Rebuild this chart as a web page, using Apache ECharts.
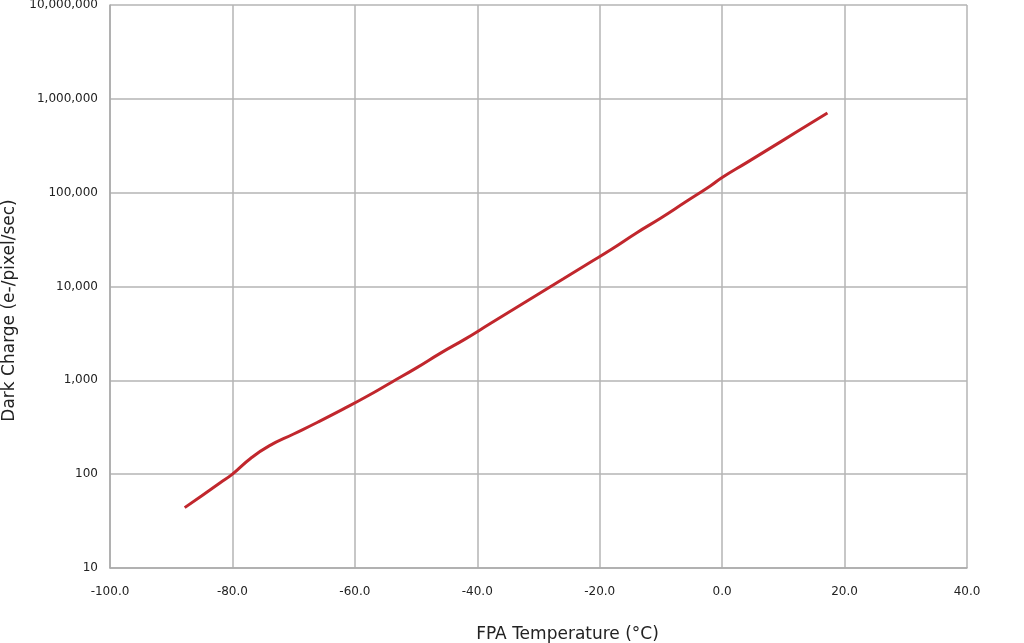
<!DOCTYPE html>
<html>
<head>
<meta charset="utf-8">
<script src="https://cdn.jsdelivr.net/npm/echarts@6/dist/echarts.min.js"></script>
<style>
html,body{margin:0;padding:0;background:#fff;}
#chart{width:1024px;height:643px;}
</style>
</head>
<body>
<div id="chart"></div>
<script>
const temperatures = [-87.8, -85, -82, -80, -77, -74, -70, -66, -62, -58, -54, -50, -46, -42, -38, -34, -30, -26, -22, -18, -14, -10, -6, -2, 0, 4, 8, 12, 17.2];
const darkCharge = [44, 59, 81, 100, 148, 200, 268, 360, 490, 676, 955, 1350, 1950, 2750, 3980, 5750, 8300, 12000, 17400, 25100, 37200, 53700, 79400, 117000, 145000, 209000, 302000, 437000, 708000];
const xAxisTitle = 'FPA Temperature (°C)';
const yAxisTitle = 'Dark Charge (e-/pixel/sec)';

const chart = echarts.init(document.getElementById('chart'));
const font = '"DejaVu Sans", sans-serif';
chart.setOption({
  animation: false,
  grid: {left: 110, right: 57, top: 5, bottom: 75, containLabel: false, outerBoundsMode: 'none'},
  xAxis: {
    type: 'value', min: -100, max: 40, interval: 20,
    name: xAxisTitle, nameLocation: 'middle', nameGap: 58,
    nameTextStyle: {fontFamily: font, fontSize: 17, color: '#222', padding: [0, 0, 0, 58]},
    axisLine: {show: true, onZero: false, lineStyle: {color: '#aaa', width: 1.5}},
    axisTick: {show: false},
    axisLabel: {fontFamily: font, fontSize: 12, color: '#222', margin: 18,
      formatter: v => v.toFixed(1)},
    splitLine: {show: true, lineStyle: {color: '#b5b5b5', width: 1.5}}
  },
  yAxis: {
    type: 'log', logBase: 10, min: 10, max: 10000000,
    name: yAxisTitle, nameLocation: 'middle', nameGap: 92,
    nameTextStyle: {fontFamily: font, fontSize: 17, color: '#222', padding: [0, 48, 0, 0]},
    axisLine: {show: true, onZero: false, lineStyle: {color: '#aaa', width: 1.5}},
    axisTick: {show: false},
    axisLabel: {fontFamily: font, fontSize: 12, color: '#222', margin: 12,
      formatter: v => Math.round(v).toLocaleString('en-US')},
    splitLine: {show: true, lineStyle: {color: '#b5b5b5', width: 1.5}}
  },
  series: [{
    type: 'line',
    data: temperatures.map((t, i) => [t, darkCharge[i]]),
    smooth: 0.5,
    showSymbol: false,
    lineStyle: {color: '#c1272d', width: 3}
  }]
});
</script>
</body>
</html>
